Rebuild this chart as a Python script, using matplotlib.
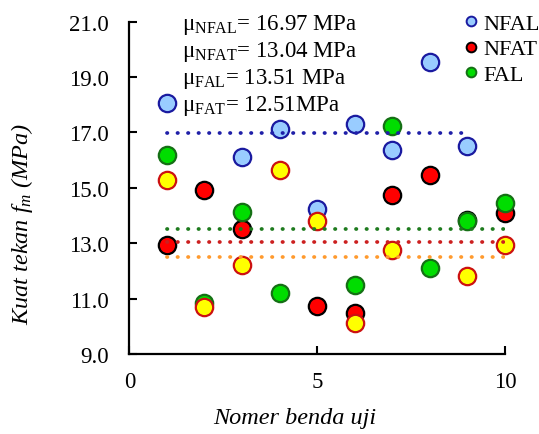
import matplotlib.pyplot as plt
import numpy as np

plt.rcParams["font.family"] = ["Liberation Serif", "DejaVu Serif"]
plt.rcParams["mathtext.fontset"] = "custom"
plt.rcParams["mathtext.rm"] = "Liberation Serif"
plt.rcParams["mathtext.it"] = "Liberation Serif:italic"

specimen = np.arange(1, 11)
nfal = [18.05, np.nan, 16.11, 17.13, 14.25, 17.30, 16.37, 19.56, 16.50, np.nan]
nfat = [12.93, 14.91, 13.50, np.nan, 10.74, 10.47, 14.73, 15.45, 13.82, 14.09]
fal = [16.20, 10.83, 14.13, 11.21, np.nan, 11.49, 17.24, 12.12, 13.79, 14.45]
fat = [15.27, 10.68, 12.21, 15.65, 13.80, 10.10, 12.75, np.nan, 11.81, 12.93]

mean_names = ["NFAL", "NFAT", "FAL", "FAT"]
mean_values = [16.97, 13.04, 13.51, 12.51]
mean_labels = ["16.97 MPa", "13.04 MPa", "13.51 MPa", "12.51MPa"]
mean_ranges = [(1, 9), (1, 10), (1, 10), (1, 10)]

fig = plt.figure(figsize=(5.39, 4.35), dpi=100)
ax = fig.add_axes([0.24, 0.184, 0.697, 0.764])

series = [
    ("NFAL", nfal, "#99ccff", "#1a1aa0"),
    ("NFAT", nfat, "#ff0000", "#000000"),
    ("FAL", fal, "#00dd00", "#157015"),
    ("FAT", fat, "#ffff00", "#cc1111"),
]
for name, values, face, edge in series:
    ax.plot(specimen, values, linestyle="none", marker="o", markersize=12.5,
            markerfacecolor=face, markeredgecolor=edge, markeredgewidth=1.6,
            zorder=3, clip_on=False)

line_colors = ["#1f1fa8", "#cc1f1f", "#1e7b1e", "#ff9a2e"]
for value, (x0, x1), color in zip(mean_values, mean_ranges, line_colors):
    ax.plot([x0, x1], [value, value], color=color, linewidth=2.7,
            linestyle=(0, (0.1, 2.7)), dash_capstyle="round", zorder=4)

for row, (name, label) in enumerate(zip(mean_names, mean_labels)):
    ax.text(0.14, 0.993 - row * 0.0812, "\u03bc$_{\\mathrm{" + name + "}}$= " + label,
            transform=ax.transAxes, fontsize=16.5, va="center", ha="left")

handles = [
    ax.plot([], [], linestyle="none", marker="o", markersize=7, markerfacecolor=face,
            markeredgecolor=edge, markeredgewidth=1.4)[0]
    for name, values, face, edge in series[:3]
]
ax.legend(handles, ["NFAL", "NFAT", "FAL"], loc="upper left", bbox_to_anchor=(0.885, 1.025),
          frameon=False, fontsize=16, handletextpad=0.15, labelspacing=0.22,
          borderaxespad=0, borderpad=0, handlelength=0.8)

ax.set_xlim(0, 10)
ax.set_ylim(9, 21)
ax.set_xticks([0, 5, 10])
ax.set_yticks(np.arange(9, 22, 2))
ax.set_yticklabels([f"{tick:.1f}" for tick in np.arange(9, 22, 2)])
ax.tick_params(direction="in", length=6, width=1.5, labelsize=16.5)
ax.tick_params(axis="y", pad=15)
ax.tick_params(axis="x", pad=12.5)
for side in ["top", "right"]:
    ax.spines[side].set_visible(False)
for side in ["left", "bottom"]:
    ax.spines[side].set_linewidth(1.6)

ax.set_xlabel("Nomer benda uji", fontsize=17.5, fontstyle="italic")
ax.set_ylabel("Kuat tekan $f_m$ (MPa)", fontsize=17.5, fontstyle="italic")
ax.xaxis.set_label_coords(0.441, -0.16)
ax.yaxis.set_label_coords(-0.251, 0.394)

fig.savefig("out.png", dpi=100)
